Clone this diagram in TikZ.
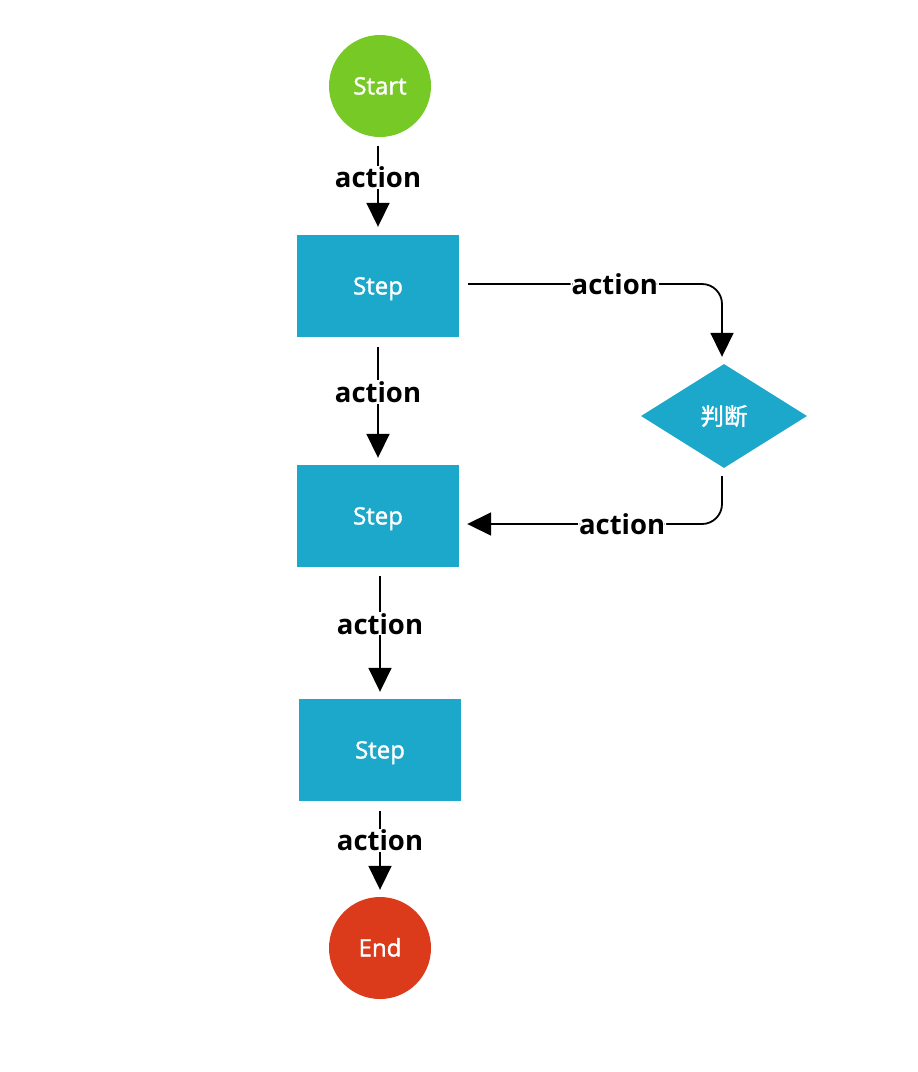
\documentclass[tikz,border=0pt]{standalone}
\usepackage{fontspec}
\setmainfont{Open Sans}
\newfontfamily\nodefont{Open Sans}[FakeBold=1.5]
\newfontfamily\cjk{Noto Sans CJK SC}[FakeBold=1.5]
\usetikzlibrary{arrows.meta,shapes.geometric}
\definecolor{cgreen}{HTML}{77C926}
\definecolor{cblue}{HTML}{1BA8CA}
\definecolor{cred}{HTML}{DB3B1A}
\tikzset{
  startend/.style={circle,minimum size=102pt,inner sep=0pt,text=white,text height=16.8pt,text depth=0pt,font=\nodefont\fontsize{24}{26}\selectfont},
  stepbox/.style={rectangle,fill=cblue,minimum width=162pt,minimum height=102pt,inner sep=0pt,text=white,text height=16.8pt,text depth=0pt,font=\nodefont\fontsize{24}{26}\selectfont},
  decision/.style={diamond,fill=cblue,minimum width=166pt,minimum height=104pt,inner sep=0pt,aspect=1.6,text=white,font=\cjk\fontsize{23.5}{26}\selectfont},
  edge/.style={draw=black,line width=1.8pt,-{Triangle[length=24pt,width=23pt]}},
  lbl/.style={fill=white,inner sep=1pt,text=black,font=\bfseries\fontsize{27.5}{30}\selectfont}
}
\begin{document}
\begin{tikzpicture}[x=1pt,y=-1pt]
\useasboundingbox (0,0) rectangle (918,1072);
\node[startend,fill=cgreen] (start) at (380,86) {Start};
\node[stepbox] (s1) at (378,286) {Step};
\node[stepbox] (s2) at (378,516) {Step};
\node[stepbox] (s3) at (380,750) {Step};
\node[startend,fill=cred] (end) at (380,948) {End};
\node[decision] (d) at (724,416) {判断};
\coordinate (s1r) at ([yshift=2pt]s1.east);
\coordinate (s2r) at ([yshift=-8pt]s2.east);
\draw[edge,shorten <=9pt,shorten >=8pt] (start.south -| s1.north) -- node[lbl,pos=0.41]{action} (s1.north);
\draw[edge,shorten <=10pt,shorten >=7pt] (s1.south) -- node[lbl,pos=0.43]{action} (s2.north);
\draw[edge,shorten <=9pt,shorten >=7pt] (s2.south -| s3.north) -- node[lbl,pos=0.43]{action} (s3.north);
\draw[edge,shorten <=10pt,shorten >=7pt] (s3.south) -- node[lbl,pos=0.41]{action} (end.north);
\draw[edge,rounded corners=20pt,shorten <=9pt,shorten >=7pt] (s1r) -| node[lbl,pos=0.296]{action} ([xshift=-2pt]d.north);
\draw[edge,rounded corners=20pt,shorten <=8pt,shorten >=8pt] ([xshift=-2pt]d.south) |- node[lbl,pos=0.69]{action} (s2r);
\end{tikzpicture}
\end{document}
